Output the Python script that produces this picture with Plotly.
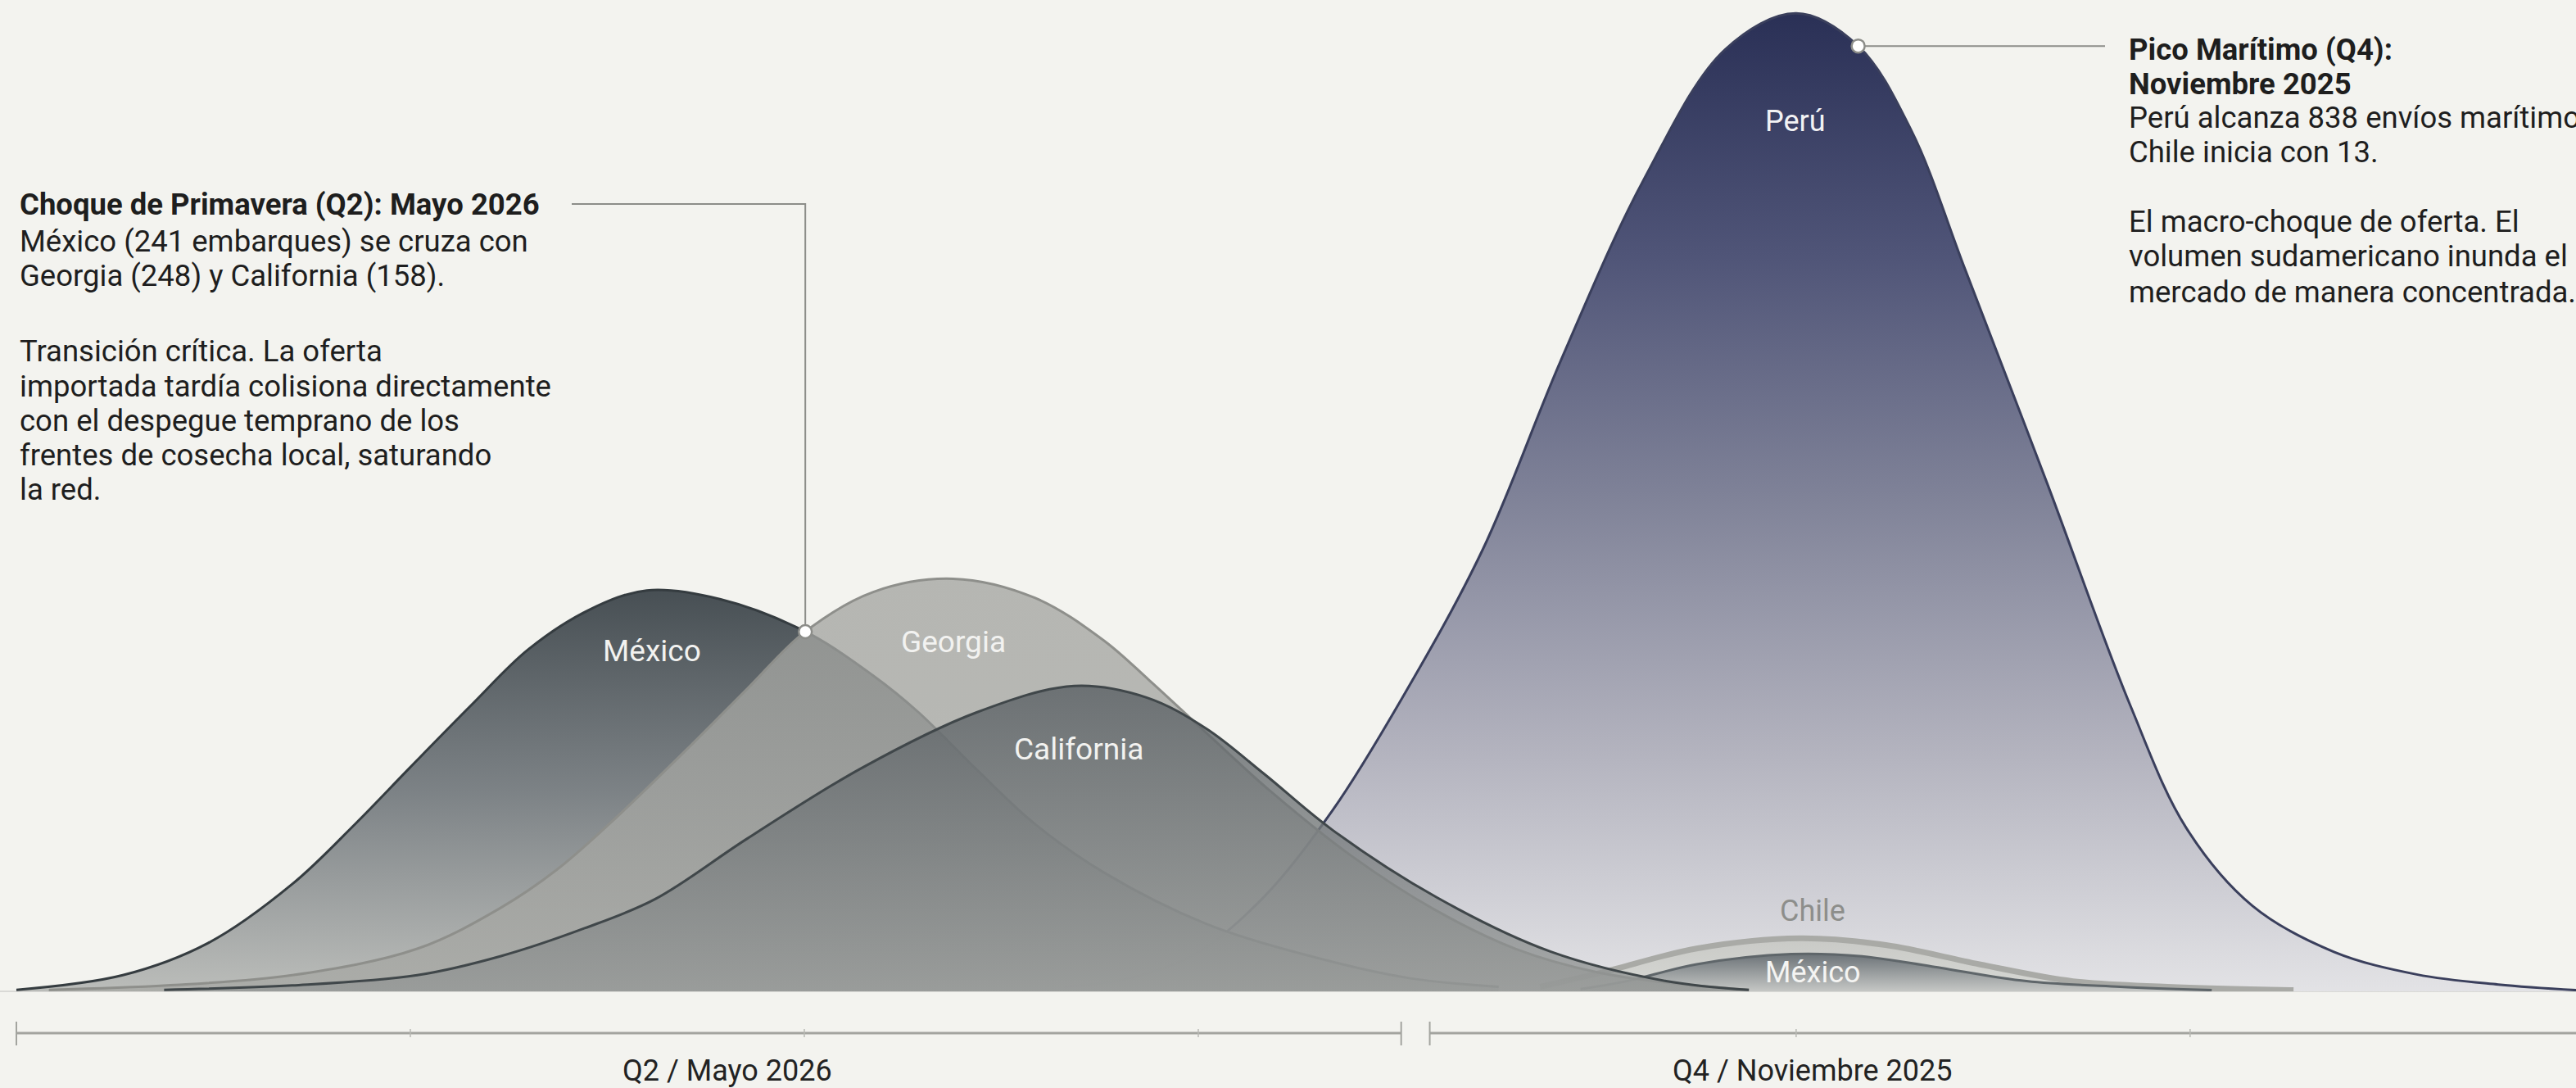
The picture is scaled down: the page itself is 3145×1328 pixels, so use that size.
import plotly.graph_objects as go

# ---------------- data (semana relativa, envíos) ----------------
# Grupo Q2 / Mayo 2026
mexico_q2_sem = [0, 1.08, 1.95, 2.80, 3.44, 3.99, 4.62, 5.20, 5.82, 6.40, 7.15, 8.01,
                 8.70, 9.16, 9.75, 10.34, 11.04, 12.08, 13.25, 14.14, 15.05]
mexico_q2_env = [1, 11, 33, 73, 114, 152, 195, 233, 260, 273, 267, 245,
                 215, 190, 151, 114, 81, 46, 22, 9, 3]

georgia_sem = [0.33, 1.53, 2.80, 4.07, 4.92, 5.49, 6.02, 6.84, 7.42, 8.01, 8.70, 9.51,
               10.34, 11.04, 11.50, 11.97, 12.72, 13.56, 14.39, 15.22, 16.05, 16.88, 17.59]
georgia_env = [1, 4, 11, 29, 57, 83, 114, 167, 206, 245, 272, 281,
               268, 239, 212, 183, 137, 92, 56, 29, 13, 5, 1]

california_sem = [1.50, 2.80, 4.07, 4.92, 5.77, 6.49, 7.42, 8.58, 9.75, 10.74, 11.48, 12.08,
                  12.67, 13.36, 14.42, 15.58, 16.75, 17.59]
california_env = [1, 4, 11, 24, 43, 63, 104, 152, 190, 208, 200, 179,
                  148, 110, 64, 27, 7, 1]

# Grupo Q4 / Noviembre 2025
peru_sem = [10.64, 11.27, 11.97, 12.67, 13.36, 14.07, 14.89, 15.68, 16.52, 17.35, 18.07,
            18.70, 19.24, 19.79, 20.62, 21.46, 22.03, 22.70, 23.53, 24.37, 25.20, 25.99]
peru_env = [4, 11, 33, 84, 160, 260, 392, 559, 719, 835, 867,
            838, 763, 639, 450, 254, 145, 76, 35, 15, 6, 1]

chile_sem = [15.47, 16.11, 17.06, 18.11, 18.98, 19.93, 20.88, 21.84, 23.12]
chile_env = [4, 17, 38, 47, 41, 24, 9, 4, 1]

mexico_q4_sem = [15.88, 16.35, 17.06, 18.02, 18.74, 19.45, 20.41, 21.36, 22.29]
mexico_q4_env = [2, 9, 24, 33, 31, 22, 9, 4, 1]

# eje temporal segmentado
tramo_q2 = [0, 14.06]
tramo_q4 = [14.35, 26.2]
ticks_q2 = [4, 8, 12]
ticks_q4 = [18.07, 22.07]
etiquetas_tramo = ["Q2 / Mayo 2026", "Q4 / Noviembre 2025"]

# ---------------- layout helpers ----------------
W, H = 3145, 1328
T, B = 10, 118
PLOT_H = H - T - B
X_RANGE = [-0.1663, 25.988]
YQ2_MAX = 669.6     # escala del grupo Q2
YQ4_MAX = 871.5     # escala del grupo Q4
BG = "#f3f3ef"
FONT = "Roboto"
TXT = "#1e1e1e"


def xp(px):
    return px / W


def yp(py):
    return (H - B - py) / PLOT_H


def xv(px):
    return X_RANGE[0] + (X_RANGE[1] - X_RANGE[0]) * px / W


def yvq2(py):
    return (H - B - py) / PLOT_H * YQ2_MAX


fig = go.Figure()


def ridge(x, y, yaxis, line_color, line_width, scale):
    return go.Scatter(
        x=x, y=y, mode="lines", yaxis=yaxis,
        line=dict(color=line_color, width=line_width, shape="spline", smoothing=1.0),
        fill="tozeroy",
        fillgradient=dict(type="vertical", colorscale=scale, start=0, stop=max(y)),
        hoverinfo="skip", showlegend=False,
    )


# Q4 group on base axis "y" (drawn below), Q2 group on overlaying axis "y2" (drawn above)
fig.add_trace(ridge(peru_sem, peru_env, "y", "#3a3f5c", 3,
                    [[0, "rgba(226,226,229,0.97)"], [0.25, "rgba(176,176,188,0.97)"],
                     [0.5, "rgba(126,129,151,0.98)"], [0.75, "rgba(80,85,120,1)"],
                     [1, "rgba(42,48,86,1)"]]))
fig.add_trace(ridge(chile_sem, chile_env, "y", "#a9aaa6", 7,
                    [[0, "rgba(214,215,211,0.95)"], [1, "rgba(200,201,197,0.95)"]]))
fig.add_trace(ridge(mexico_q4_sem, mexico_q4_env, "y", "#5f666a", 3,
                    [[0, "rgba(196,198,196,0.95)"], [1, "rgba(105,112,117,0.97)"]]))

fig.add_trace(ridge(mexico_q2_sem, mexico_q2_env, "y2", "#353c40", 3,
                    [[0, "rgba(184,186,183,0.95)"], [0.5, "rgba(118,124,128,0.95)"],
                     [1, "rgba(66,74,79,0.97)"]]))
fig.add_trace(ridge(georgia_sem, georgia_env, "y2", "#8e8f8b", 3,
                    [[0, "rgba(166,167,163,0.76)"], [1, "rgba(164,165,161,0.78)"]]))
fig.add_trace(ridge(california_sem, california_env, "y2", "#40474a", 3,
                    [[0, "rgba(148,151,150,0.76)"], [1, "rgba(92,98,102,0.82)"]]))

# leader lines + markers
ci = mexico_q2_sem.index(8.01)
cross_x, cross_y = mexico_q2_sem[ci], mexico_q2_env[ci]
fig.add_trace(go.Scatter(x=[xv(698), cross_x, cross_x], y=[yvq2(249), yvq2(249), cross_y],
                         mode="lines", line=dict(color="#8c8d89", width=2), yaxis="y2",
                         hoverinfo="skip", showlegend=False))
fig.add_trace(go.Scatter(x=[cross_x], y=[cross_y], mode="markers", yaxis="y2",
                         marker=dict(size=16, color="#ffffff", line=dict(color="#8c8d89", width=2.5)),
                         hoverinfo="skip", showlegend=False))
pi = peru_sem.index(18.70)
pk_x, pk_y = peru_sem[pi], peru_env[pi]
fig.add_trace(go.Scatter(x=[pk_x, xv(2570)], y=[pk_y, pk_y], mode="lines", yaxis="y",
                         line=dict(color="#8c8d89", width=2), hoverinfo="skip", showlegend=False))
fig.add_trace(go.Scatter(x=[pk_x], y=[pk_y], mode="markers", yaxis="y",
                         marker=dict(size=16, color="#ffffff", line=dict(color="#8c8d89", width=2.5)),
                         hoverinfo="skip", showlegend=False))

# series labels
ann = []


def lab(text, x, y, yref, color, size=37):
    ann.append(dict(text=text, x=x, y=y, xref="x", yref=yref, showarrow=False,
                    xanchor="center", yanchor="middle",
                    font=dict(family=FONT, size=size, color=color)))


lab("México", 6.45, 232, "y2", "#f2f2f0")
lab("Georgia", 9.51, 238, "y2", "#f2f2f0")
lab("California", 10.79, 165, "y2", "#f2f2f0")
lab("Perú", 18.06, 771, "y", "#f2f2f4", 36)
lab("Chile", 18.24, 71, "y", "#8d8e8b", 36)
lab("México", 18.24, 17, "y", "#f4f4f2", 36)

# text blocks (one annotation per line)
left_lines = ["<b>Choque de Primavera (Q2): Mayo 2026</b>",
              "México (241 embarques) se cruza con",
              "Georgia (248) y California (158).",
              "Transición crítica. La oferta",
              "importada tardía colisiona directamente",
              "con el despegue temprano de los",
              "frentes de cosecha local, saturando",
              "la red."]
left_y = [250, 294, 337, 428, 471, 513, 555, 597]
for t, y in zip(left_lines, left_y):
    ann.append(dict(text=t, x=xp(22), y=yp(y), xref="paper", yref="paper",
                    xanchor="left", yanchor="middle", align="left", showarrow=False,
                    font=dict(family=FONT, size=36.5, color=TXT)))

right_lines = ["<b>Pico Marítimo (Q4):</b>",
               "<b>Noviembre 2025</b>",
               "Perú alcanza 838 envíos marítimos.",
               "Chile inicia con 13.",
               "El macro-choque de oferta. El",
               "volumen sudamericano inunda el",
               "mercado de manera concentrada."]
right_y = [61, 102, 143, 185, 270, 313, 356]
for t, y in zip(right_lines, right_y):
    ann.append(dict(text=t, x=xp(2597), y=yp(y), xref="paper", yref="paper",
                    xanchor="left", yanchor="middle", align="left", showarrow=False,
                    font=dict(family=FONT, size=36.5, color=TXT)))

# segmented axis
shapes = []
AX_Y = yp(1261)
for seg in (tramo_q2, tramo_q4):
    shapes.append(dict(type="line", xref="x", yref="paper", x0=seg[0], x1=seg[1],
                       y0=AX_Y, y1=AX_Y, line=dict(color="#a3a49f", width=3)))
for xe in (tramo_q2[0], tramo_q2[1], tramo_q4[0]):
    shapes.append(dict(type="line", xref="x", yref="paper", x0=xe, x1=xe,
                       y0=yp(1247), y1=yp(1276), line=dict(color="#a3a49f", width=2)))
for xt in ticks_q2 + ticks_q4:
    shapes.append(dict(type="line", xref="x", yref="paper", x0=xt, x1=xt,
                       y0=yp(1256), y1=yp(1266), line=dict(color="#b8b9b4", width=1.5)))
shapes.append(dict(type="line", xref="x", yref="paper", x0=X_RANGE[0], x1=X_RANGE[1],
                   y0=0, y1=0, line=dict(color="rgba(160,161,157,0.6)", width=1), layer="below"))

for text, xc in zip(etiquetas_tramo, [7.22, 18.24]):
    ann.append(dict(text=text, x=xc, y=yp(1307), xref="x", yref="paper", showarrow=False,
                    xanchor="center", yanchor="middle",
                    font=dict(family=FONT, size=36, color="#222222")))

fig.update_layout(
    width=W, height=H, margin=dict(l=0, r=0, t=T, b=B),
    paper_bgcolor=BG, plot_bgcolor=BG,
    xaxis=dict(range=X_RANGE, visible=False, showgrid=False, zeroline=False),
    yaxis=dict(range=[0, YQ4_MAX], visible=False, showgrid=False, zeroline=False),
    yaxis2=dict(range=[0, YQ2_MAX], visible=False, showgrid=False, zeroline=False,
                overlaying="y"),
    annotations=ann, shapes=shapes, showlegend=False,
)

fig.write_html("out.html", config={"displayModeBar": False},
               post_script="document.body.style.margin='0';document.body.style.overflow='hidden';")
